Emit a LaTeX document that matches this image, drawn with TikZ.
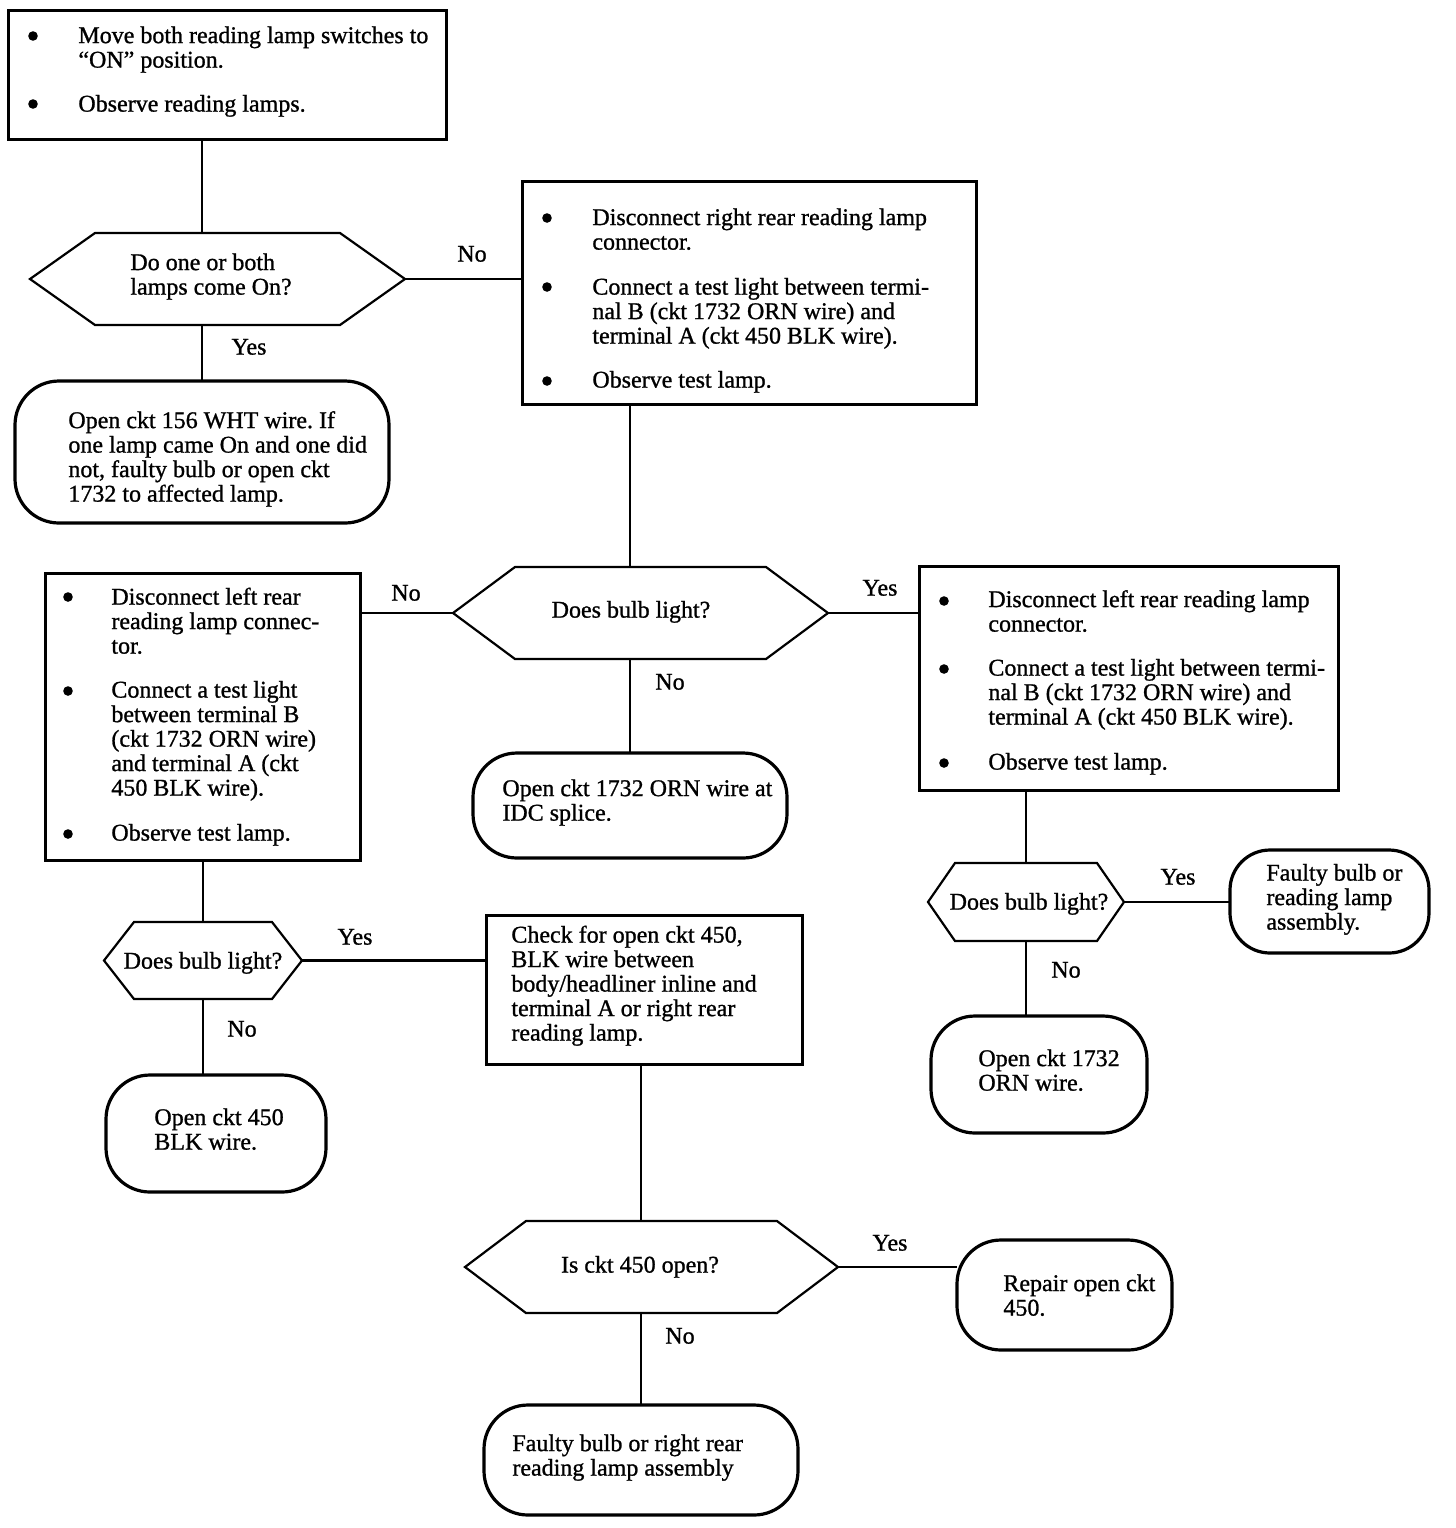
\documentclass[tikz,border=0pt]{standalone}
\usepackage{fontspec}
\setmainfont{Liberation Serif}[FakeBold=1.0]
\frenchspacing
\newcommand\hexpath[2]{\draw[hexline] (#1.west) -- ([xshift=#2]#1.north west) -- ([xshift=-#2]#1.north east) -- (#1.east) -- ([xshift=-#2]#1.south east) -- ([xshift=#2]#1.south west) -- cycle;}
\begin{document}
\begin{tikzpicture}[x=0.5pt,y=-0.5pt,
  box/.style={draw, line width=1.5pt, rectangle, inner sep=0pt, outer sep=0pt},
  term/.style={draw, line width=1.6pt, rectangle, rounded corners=22pt, inner sep=0pt, outer sep=0pt},
  hexn/.style={rectangle, inner sep=0pt, outer sep=0pt},
  hexline/.style={line width=1.1pt, line join=miter},
  conn/.style={line width=1.1pt},
  txt/.style={anchor=mid west, inner sep=0pt, align=left, font=\fontsize{12}{12.25}\selectfont\frenchspacing},
  ctxt/.style={anchor=mid, inner sep=0pt, font=\fontsize{12}{12.25}\selectfont},
  lbl/.style={anchor=mid, inner sep=0pt, font=\fontsize{12}{12.25}\selectfont},
  bul/.style={circle, fill, inner sep=0pt, minimum size=4.8pt}]
\useasboundingbox (0,0) rectangle (1456,1528);

% shapes
\node[box, minimum width=219pt, minimum height=64.5pt] (box1) at (227,74.5) {};
\node[hexn, minimum width=187.5pt, minimum height=46pt] (hex1) at (217.5,279) {};
\hexpath{hex1}{32.5pt}
\node[term, minimum width=187pt, minimum height=71pt] (term1) at (202,452) {};
\node[box, minimum width=227pt, minimum height=111.5pt] (box2) at (749,292.5) {};
\node[hexn, minimum width=187.5pt, minimum height=46pt] (hex2) at (640.5,613) {};
\hexpath{hex2}{31pt}
\node[term, minimum width=157pt, minimum height=52.5pt] (term2) at (630,805.5) {};
\node[box, minimum width=157.5pt, minimum height=143.5pt] (box3) at (202.5,716.5) {};
\node[box, minimum width=209.5pt, minimum height=112pt] (box4) at (1128.5,678) {};
\node[hexn, minimum width=99pt, minimum height=38.5pt] (hex3) at (203,960.5) {};
\hexpath{hex3}{15pt}
\node[box, minimum width=158pt, minimum height=74.5pt] (box5) at (644,989.5) {};
\node[term, minimum width=110pt, minimum height=58.5pt] (term3) at (216,1133.5) {};
\node[hexn, minimum width=98pt, minimum height=39pt] (hex4) at (1026,902) {};
\hexpath{hex4}{13.5pt}
\node[term, minimum width=99.5pt, minimum height=51.5pt, rounded corners=20pt] (term4) at (1329.5,901.5) {};
\node[term, minimum width=108pt, minimum height=58.5pt] (term5) at (1039,1074.5) {};
\node[hexn, minimum width=186.5pt, minimum height=46pt] (hex5) at (651.5,1267) {};
\hexpath{hex5}{30.5pt}
\node[term, minimum width=107.5pt, minimum height=55pt] (term6) at (1064.5,1295) {};
\node[term, minimum width=157pt, minimum height=55pt] (term7) at (641,1460) {};

% connectors
\draw[conn] (box1.south -| term1) -- (hex1.north -| term1);
\draw[conn] (hex1.south -| term1) -- (term1.north);
\draw[conn] (hex1.east) -- (hex1.east -| box2.west);
\draw[conn] (box2.south -| term2) -- (hex2.north -| term2);
\draw[conn] (hex2.south -| term2) -- (term2.north);
\draw[conn] (hex2.west) -- (hex2.west -| box3.east);
\draw[conn] (hex2.east) -- (hex2.east -| box4.west);
\draw[conn] (box3.south -| hex3) -- (hex3.north);
\draw[conn] (hex3.south) -- (term3.north -| hex3);
\draw[conn] (hex3.east) -- (hex3.east -| box5.west);
\draw[conn] (box4.south -| hex4) -- (hex4.north);
\draw[conn] (hex4.south) -- (term5.north -| hex4);
\draw[conn] (hex4.east) -- (hex4.east -| term4.west);
\draw[conn] (box5.south -| term7) -- (hex5.north -| term7);
\draw[conn] (hex5.south -| term7) -- (term7.north);
\draw[conn] (hex5.east) -- (hex5.east -| term6.west);

% labels
\node[lbl] (l1) at (472,257) {No};
\node[lbl] (l2) at (249,350) {Yes};
\node[lbl] (l3) at (406,596) {No};
\node[lbl] (l4) at (880,591) {Yes};
\node[lbl] (l5) at (670,685) {No};
\node[lbl] (l6) at (355,940) {Yes};
\node[lbl] (l7) at (242,1032) {No};
\node[lbl] (l8) at (1178,880) {Yes};
\node[lbl] (l9) at (1066,973) {No};
\node[lbl] (l10) at (890,1246) {Yes};
\node[lbl] (l11) at (680,1339) {No};

% box1 text
\node[bul] (b1a) at (33,36) {};
\node[txt] (t1a) at (78,63) {Move both reading lamp switches to\\“ON” position.};
\node[bul] (b1b) at (33,104) {};
\node[txt] (t1b) at (78,107) {Observe reading lamps.};

% hex1 text
\node[txt] (th1) at (130,290) {Do one or both\\lamps come On?};

% term1
\node[txt] (tt1) at (68,497) {Open ckt 156 WHT wire. If\\one lamp came On and one did\\not, faulty bulb or open ckt\\1732 to affected lamp.};

% box2
\node[bul] (b2a) at (547,218) {};
\node[txt] (t2a) at (592,245) {Disconnect right rear reading lamp\\connector.};
\node[bul] (b2b) at (547,287) {};
\node[txt] (t2b) at (592,339) {Connect a test light between termi-\\nal B (ckt 1732 ORN wire) and\\terminal A (ckt 450 BLK wire).};
\node[bul] (b2c) at (547,381) {};
\node[txt] (t2c) at (592,383) {Observe test lamp.};

% hex2
\node[ctxt] (th2) at (631,613) {Does bulb light?};

% term2
\node[txt] (tt2) at (502,816) {Open ckt 1732 ORN wire at\\IDC splice.};

% box3
\node[bul] (b3a) at (68,597) {};
\node[txt] (t3a) at (111,649) {Disconnect left rear\\reading lamp connec-\\tor.};
\node[bul] (b3b) at (68,691) {};
\node[txt] (t3b) at (111,791) {Connect a test light\\between terminal B\\(ckt 1732 ORN wire)\\and terminal A (ckt\\450 BLK wire).};
\node[bul] (b3c) at (68,834) {};
\node[txt] (t3c) at (111,836) {Observe test lamp.};

% box4
\node[bul] (b4a) at (944,601) {};
\node[txt] (t4a) at (988,627) {Disconnect left rear reading lamp\\connector.};
\node[bul] (b4b) at (944,669) {};
\node[txt] (t4b) at (988,720) {Connect a test light between termi-\\nal B (ckt 1732 ORN wire) and\\terminal A (ckt 450 BLK wire).};
\node[bul] (b4c) at (944,763) {};
\node[txt] (t4c) at (988,765) {Observe test lamp.};

% hex3, box5, term3
\node[ctxt] (th3) at (203,964) {Does bulb light?};
\node[txt] (t5) at (511,1036) {Check for open ckt 450,\\BLK wire between\\body/headliner inline and\\terminal A or right rear\\reading lamp.};
\node[txt] (tt3) at (154,1145) {Open ckt 450\\BLK wire.};

% hex4, term4, term5
\node[ctxt] (th4) at (1029,905) {Does bulb light?};
\node[txt] (tt4) at (1266,925) {Faulty bulb or\\reading lamp\\assembly.};
\node[txt] (tt5) at (978,1086) {Open ckt 1732\\ORN wire.};

% hex5, term6, term7
\node[ctxt] (th5) at (640,1268) {Is ckt 450 open?};
\node[txt] (tt6) at (1003,1311) {Repair open ckt\\450.};
\node[txt] (tt7) at (512,1471) {Faulty bulb or right rear\\reading lamp assembly};
\end{tikzpicture}
\end{document}
